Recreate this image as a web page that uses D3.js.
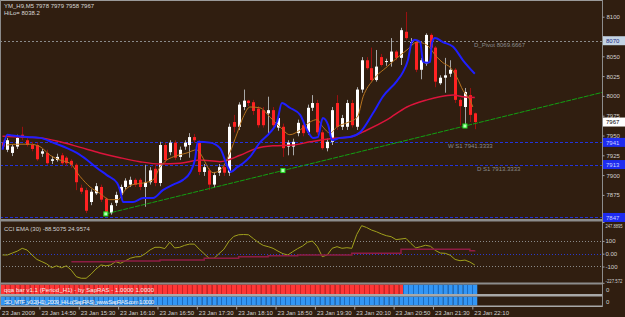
<!DOCTYPE html>
<html>
<head>
<meta charset="utf-8">
<script src="https://cdn.jsdelivr.net/npm/d3@7"></script>
<style>
  body { margin: 0; background: #301e10; }
  svg { display: block; font-family: "Liberation Sans", Arial, sans-serif; }
  .axis path { display: none; }
  .axis line { stroke: #a0a0a0; }
  .axis text { fill: #d0d0d0; font-size: 6px; }
</style>
</head>
<body>
<div id="chart"></div>
<script>
// ---- data ----
var opens  = [7941,7932,7928,7936,7951,7944,7938,7938,7927,7928,7918,7919,7925,7922,7918,7913,7884,7881,7866,7877,
              7885,7870,7852,7865,7875,7885,7888,7894,7894,7885,7891,7908,7890,7938,7929,7941,7923,7936,7938,7948,
              7941,7904,7906,7888,7903,7910,7903,7967,7961,7986,7994,7992,7984,7982,7978,7982,7960,7961,7936,7936,
              7953,7963,7954,7985,7991,7954,7934,7942,7991,7961,7961,7991,7961,8008,8045,8035,8020,8049,8043,8043,
              8056,8048,8081,8067,8068,8033,8041,8077,8061,8016,8023,8028,8033,7995,7986,8001,7978];
var highs  = [7944,7947,7938,7951,7961,7947,7942,7941,7933,7932,7924,7927,7928,7924,7920,7915,7888,7884,7882,7890,
              7888,7872,7865,7879,7888,7896,7898,7896,7896,7913,7910,7913,7942,7941,7944,7944,7936,7944,7953,7952,
              7944,7914,7909,7904,7914,7913,7965,7976,7992,8008,7995,7995,7987,7986,7999,7986,7976,7965,7944,7946,
              7970,7967,7989,8001,7995,7957,7946,7986,8001,7976,7995,7995,8011,8049,8049,8061,8058,8053,8047,8073,
              8058,8086,8106,8073,8071,8048,8079,8079,8063,8026,8048,8045,8035,7997,8010,8010,7979];
var lows   = [7933,7929,7924,7933,7944,7936,7930,7918,7923,7913,7914,7917,7913,7912,7909,7881,7876,7852,7862,7875,
              7866,7851,7850,7861,7872,7882,7885,7885,7881,7860,7888,7886,7886,7915,7925,7919,7919,7932,7922,7941,
              7900,7899,7881,7884,7899,7899,7899,7954,7957,7982,7987,7976,7960,7960,7951,7960,7956,7923,7925,7925,
              7949,7949,7951,7981,7951,7932,7930,7938,7957,7957,7957,7960,7957,8004,8033,8018,8018,8037,8038,8037,
              8045,8039,8071,8064,8030,8021,8038,8058,8011,8014,8004,8024,7991,7963,7963,7967,7958];
var closes = [7936,7944,7936,7947,7947,7938,7933,7920,7930,7915,7920,7923,7915,7915,7913,7891,7879,7855,7879,7886,
              7869,7853,7862,7875,7885,7893,7894,7888,7885,7891,7906,7890,7938,7919,7941,7922,7932,7941,7948,7944,
              7904,7910,7888,7900,7910,7903,7961,7961,7989,7994,7991,7981,7963,7963,7982,7963,7972,7934,7941,7942,
              7966,7953,7985,7991,7954,7934,7942,7982,7961,7972,7991,7963,8008,8045,8035,8020,8037,8039,8044,8056,
              8048,8083,8073,8068,8033,8045,8077,8061,8018,8023,8026,8033,7995,7987,8005,7976,7967];

// moving averages: [bar index, price]
var blueMA = [[0,7932],[1,7951],[2,7950],[5,7948],[7.6,7947],[10.3,7941],[13.1,7934],[15.1,7928],[17.2,7919],
              [19.2,7909],[21.2,7900],[23.3,7890],[23.9,7881],[24.5,7866],[26.5,7866],[28.6,7871],[30.6,7871],
              [32.6,7881],[34.7,7888],[36.7,7894],[38.1,7903],[39.1,7919],[39.7,7942],[42.2,7941],[44.2,7934],
              [45.8,7910],[46.4,7904],[47.7,7910],[48.9,7915],[50.3,7923],[52.3,7941],[54.4,7954],[55.8,7967],
              [56.8,7991],[58.4,7985],[60.5,7976],[61.9,7957],[63.1,7947],[64.1,7948],[65.1,7972],[66.2,7963],
              [67,7944],[68.6,7947],[70.6,7948],[72.7,7954],[75.3,7978],[77.3,7999],[80.2,8019],[81.4,8030],
              [82.4,8045],[83.2,8068],[83.8,8071],[84.9,8068],[85.5,8043],[86.3,8042],[86.9,8043],[87.3,8067],
              [87.9,8073],[89.5,8068],[91.6,8062],[93.6,8045],[96,8028]];
var redMA  = [[0,7949],[3.6,7948],[7.6,7947],[11.7,7942],[15.8,7935],[19.8,7928],[23.9,7922],[27.9,7917],
              [32,7914],[36.1,7915],[40.1,7919],[44.2,7917],[48.3,7925],[51.7,7934],[55,7937],[59.1,7938],
              [62.5,7942],[66.6,7946],[70.6,7948],[74.1,7957],[78.2,7970],[82.2,7986],[86.3,7995],[88.9,7999],
              [91.6,8001],[93.6,7999],[96,7998]];
var orangeMA = [[0.9,7938],[2.9,7939],[5.6,7939],[7.6,7936],[9.7,7925],[11.7,7919],[13.7,7915],[15.8,7898],
              [17.8,7885],[19.8,7877],[21.8,7869],[23.5,7869],[24.9,7881],[26.5,7888],[28.6,7890],[30.6,7894],
              [32,7910],[33.4,7919],[34.7,7923],[37.5,7928],[39.5,7932],[40.1,7928],[42.8,7903],[44.2,7906],
              [46.2,7928],[47.7,7953],[48.9,7973],[50.3,7986],[52.3,7985],[54.4,7973],[56.4,7961],[58.4,7951],
              [60.5,7957],[62.5,7967],[63.9,7970],[65.1,7961],[66.6,7953],[68,7961],[70,7966],[72.1,7973],
              [73.3,7999],[75.3,8020],[78.2,8037],[80.2,8048],[82.2,8058],[84.3,8068],[86.3,8064],[88.3,8049],
              [89.5,8042],[91,8036],[92.4,8023],[93.6,8007],[95,7995],[95.6,7986]];

// trend line anchors and touch points
var trendAnchors = [[21,7851],[94,7962]];
var trendTouches = [21, 57, 94];

// horizontal levels
var levelPrices = [8069.6667, 7941.3333, 7913.3333, 7846.5];
var levelNames  = ['D_Pivot 8069.6667', 'W S1 7941.3333', 'D S1 7913.3333', ''];
var boxPrices = [8069.6667, 7967, 7941.3333, 7913.3333, 7846.5];
var boxTexts  = ['8070', '7967', '7941', '7913', '7847'];
var priceTicks = [8100, 8075, 8050, 8025, 8000, 7975, 7950, 7925, 7900, 7875];

// CCI panel
var cciValues = [-10,-10,5,20,42,29,-10,-45,-62,-80,-110,-95,-110,-95,-130,-180,-192,-192,-160,-120,
                 -88,-95,-88,-62,-75,-55,-35,-25,-23,0,30,50,50,40,90,45,50,65,75,75,
                 35,0,-36,-36,0,35,95,135,148,150,148,118,88,65,55,42,20,0,-10,16,
                 40,60,90,99,55,-23,-10,42,55,42,47,42,150,219,205,185,172,155,141,133,
                 110,115,120,81,45,55,66,58,25,5,3,-12,-45,-55,-50,-65,-88.5];
var cciSignal = [[14,-62],[23,-57],[32,-49],[41,-36],[48,-23],[54,-16],[60,-10],[71,3],[81,34],[90,34],[95,23],[96,25]];
var cciTicks = [247.8895, 100, 0, -100, -227.572];
var cciTickLabels = ['247.8895', '100', '0.00', '-100', '-227.572'];

// histogram panels: runs of [state, bar count]
var qqaRuns = [[-1, 82], [1, 15]];
var soRuns  = [[1, 97]];

// time axis
var timeTickIdx = [0, 8, 16, 24, 32, 40, 48, 56, 64, 72, 80, 88, 96];
var timeLabels = ['23 Jan 2009', '23 Jan 14:50', '23 Jan 15:30', '23 Jan 16:10', '23 Jan 16:50', '23 Jan 17:30',
                  '23 Jan 18:10', '23 Jan 18:50', '23 Jan 19:30', '23 Jan 20:10', '23 Jan 20:50', '23 Jan 21:30', '23 Jan 22:10'];

// ---- layout ----
var W = 625, H = 317, axisX = 602;
var bg = '#301e10';

var svg = d3.select('#chart').append('svg').attr('width', W).attr('height', H);
svg.append('rect').attr('width', W).attr('height', H).attr('fill', bg);

var x = d3.scaleLinear().domain([0, 96]).range([2.5, 474.8]);
var y = d3.scaleLinear().domain([7850, 8100]).range([214.7, 16.7]);
var yCci = d3.scaleLinear().domain([-227.572, 247.8895]).range([282.8, 222]);
var slot = x(1) - x(0);

svg.append('clipPath').attr('id', 'clipMain')
   .append('rect').attr('x', 0).attr('y', 1).attr('width', axisX).attr('height', 218);
svg.append('clipPath').attr('id', 'clipCci')
   .append('rect').attr('x', 0).attr('y', 222).attr('width', axisX).attr('height', 60);

var main = svg.append('g').attr('clip-path', 'url(#clipMain)');

// level lines
main.selectAll('.level')
    .data(levelPrices)
    .enter().append('line')
    .attr('x1', 0).attr('x2', axisX)
    .attr('y1', function(d) { return Math.round(y(d)) + 0.5; })
    .attr('y2', function(d) { return Math.round(y(d)) + 0.5; })
    .attr('stroke', function(d, i) { return i === 0 ? '#8a8a8a' : '#2233dd'; })
    .attr('stroke-dasharray', function(d, i) { return i === 0 ? '2,2' : '3,2'; })
    .attr('stroke-width', 1);

var levelTextX = [474, 448, 477, 0];
main.selectAll('.levelText')
    .data(levelNames)
    .enter().append('text')
    .attr('x', function(d, i) { return levelTextX[i]; })
    .attr('y', function(d, i) { return y(levelPrices[i]) + 6; })
    .attr('fill', '#8a8a8a')
    .attr('font-size', 6)
    .text(function(d) { return d; });

// candles
var bars = d3.range(opens.length);
var candle = main.selectAll('.candle').data(bars).enter().append('g');

candle.append('line')
      .attr('x1', function(i) { return Math.round(x(i)) + 0.5; })
      .attr('x2', function(i) { return Math.round(x(i)) + 0.5; })
      .attr('y1', function(i) { return y(highs[i]); })
      .attr('y2', function(i) { return y(lows[i]); })
      .attr('stroke', function(i) { return closes[i] >= opens[i] ? '#a8a8a8' : '#9a1010'; })
      .attr('stroke-width', 1);

candle.append('rect')
      .attr('x', function(i) { return Math.round(x(i)) - 1; })
      .attr('width', 3)
      .attr('y', function(i) { return y(Math.max(opens[i], closes[i])); })
      .attr('height', function(i) { return Math.max(1, Math.abs(y(opens[i]) - y(closes[i]))); })
      .attr('fill', function(i) { return closes[i] >= opens[i] ? '#ffffff' : '#ff2222'; });

// moving averages
var maLine = d3.line()
               .x(function(d) { return x(d[0]); })
               .y(function(d) { return y(d[1]); })
               .curve(d3.curveMonotoneX);

main.append('path').datum(redMA)
    .attr('d', maLine).attr('fill', 'none').attr('stroke', '#dc143c').attr('stroke-width', 1.5);
main.append('path').datum(orangeMA)
    .attr('d', maLine).attr('fill', 'none').attr('stroke', '#b8741e').attr('stroke-width', 1);
main.append('path').datum(blueMA)
    .attr('d', maLine).attr('fill', 'none').attr('stroke', '#1f1fff').attr('stroke-width', 2);

// trend line, extended to the price axis
var slope = (trendAnchors[1][1] - trendAnchors[0][1]) / (trendAnchors[1][0] - trendAnchors[0][0]);
var endIdx = x.invert(axisX);
var trendPts = [trendAnchors[0], [endIdx, trendAnchors[0][1] + slope * (endIdx - trendAnchors[0][0])]];
main.append('line')
    .attr('x1', x(trendPts[0][0])).attr('y1', y(trendPts[0][1]))
    .attr('x2', x(trendPts[1][0])).attr('y2', y(trendPts[1][1]))
    .attr('stroke', '#12a012').attr('stroke-width', 1).attr('stroke-dasharray', '5,1');

main.selectAll('.touch')
    .data(trendTouches)
    .enter().append('rect')
    .attr('x', function(d) { return x(d) - 2; })
    .attr('y', function(d) { return y(trendAnchors[0][1] + slope * (d - trendAnchors[0][0])) - 2; })
    .attr('width', 4).attr('height', 4)
    .attr('fill', '#b8ffb8').attr('stroke', '#22dd22').attr('stroke-width', 1);

// header texts
svg.append('text').attr('x', 4).attr('y', 8).attr('fill', '#d8d8d8').attr('font-size', 6)
   .text('YM_H9,M5  7978 7979 7958 7967');
svg.append('text').attr('x', 4).attr('y', 15).attr('fill', '#d8d8d8').attr('font-size', 6)
   .text('HiLo= 8038.2');

// ---- CCI panel ----
var cci = svg.append('g').attr('clip-path', 'url(#clipCci)');
cci.selectAll('.cciGrid')
   .data(cciTicks.slice(1, 4))
   .enter().append('line')
   .attr('x1', 0).attr('x2', axisX)
   .attr('y1', function(d) { return Math.round(yCci(d)) + 0.5; })
   .attr('y2', function(d) { return Math.round(yCci(d)) + 0.5; })
   .attr('stroke', function(d) { return d === 0 ? '#2a3acc' : '#8a8a8a'; })
   .attr('stroke-dasharray', '1,2');

var cciLine = d3.line()
                .x(function(d, i) { return x(i); })
                .y(function(d) { return yCci(d); });
cci.append('path').datum(cciValues)
   .attr('d', cciLine).attr('fill', 'none').attr('stroke', '#a0a01c').attr('stroke-width', 1);

var sigLine = d3.line()
                .x(function(d) { return x(d[0]); })
                .y(function(d) { return yCci(d[1]); })
                .curve(d3.curveStepAfter);
cci.append('path').datum(cciSignal)
   .attr('d', sigLine).attr('fill', 'none').attr('stroke', '#8e1c44').attr('stroke-width', 1.5);

svg.append('text').attr('x', 4).attr('y', 231).attr('fill', '#d0d0d0').attr('font-size', 6)
   .text('CCI EMA (30) -88.5075 24.9574');

// ---- histogram panels ----
function expandRuns(runs) {
  var out = [];
  runs.forEach(function(r) { for (var k = 0; k < r[1]; k++) out.push(r[0]); });
  return out;
}

function drawHist(states, top, height, label) {
  var g = svg.append('g');
  g.selectAll('rect')
   .data(states)
   .enter().append('rect')
   .attr('x', function(d, i) { return x(i) - slot / 2; })
   .attr('y', top)
   .attr('width', slot)
   .attr('height', height)
   .attr('fill', function(d) { return d < 0 ? '#ff3636' : '#3296f5'; });
  g.selectAll('line')
   .data(states)
   .enter().append('line')
   .attr('x1', function(d, i) { return Math.round(x(i) - slot / 2) + 0.5; })
   .attr('x2', function(d, i) { return Math.round(x(i) - slot / 2) + 0.5; })
   .attr('y1', top).attr('y2', top + height)
   .attr('stroke', function(d) { return d < 0 ? '#c82424' : '#1e6cc0'; });
  g.append('text').attr('x', 4).attr('y', top + 7).attr('fill', '#f0f0f0').attr('font-size', 6)
   .attr('textLength', 150).attr('lengthAdjust', 'spacing')
   .text(label);
  svg.append('text').attr('x', 606).attr('y', top + 7).attr('fill', '#d0d0d0').attr('font-size', 6).text('0');
}

drawHist(expandRuns(qqaRuns), 284.5, 9.5, 'qqa bar v1.1 (Period_H1)  -  by SapRAS  -  1.0000 1.0000');
drawHist(expandRuns(soRuns), 296.5, 9, 'SO_MTF_v0.2(H1)_2009_Hi-Lo(SapRAS)_www.SapRAS.com 1.0000');

// ---- frames and separators ----
svg.append('rect').attr('x', 0).attr('y', 0).attr('width', axisX).attr('height', 1).attr('fill', '#9a9a9a');
svg.append('rect').attr('x', 0).attr('y', 0).attr('width', 1).attr('height', 306).attr('fill', '#8a8a8a');
svg.append('rect').attr('x', 0).attr('y', 219).attr('width', axisX).attr('height', 2.5).attr('fill', '#8c8c8c');
svg.append('rect').attr('x', 0).attr('y', 282.5).attr('width', axisX).attr('height', 2).attr('fill', '#8c8c8c');
svg.append('rect').attr('x', 0).attr('y', 294).attr('width', axisX).attr('height', 2.5).attr('fill', '#a8a8a8');
svg.append('rect').attr('x', 0).attr('y', 305.5).attr('width', axisX).attr('height', 1.5).attr('fill', '#a8a8a8');
svg.append('rect').attr('x', axisX).attr('y', 0).attr('width', 1).attr('height', 307).attr('fill', '#8c8c8c');

// ---- axes ----
// the 8075 label sits under the pivot price box, as in the original
var priceAxis = d3.axisRight(y).tickValues(priceTicks).tickSize(2).tickPadding(2)
                  .tickFormat(function(d) { return d === 8075 ? '' : d3.format('d')(d); });
svg.append('g').attr('class', 'axis').attr('transform', 'translate(' + (axisX + 0.5) + ',0)').call(priceAxis);

var cciAxis = d3.axisRight(yCci).tickValues(cciTicks).tickSize(2).tickPadding(1)
                .tickFormat(function(d, i) { return cciTickLabels[i]; });
var cciAxisG = svg.append('g').attr('class', 'axis').attr('transform', 'translate(' + (axisX + 0.5) + ',0)').call(cciAxis);
cciAxisG.selectAll('text')
        .attr('dy', function(d, i) { return i === 0 ? '1em' : (i === 4 ? '-0.1em' : '0.32em'); })
        .each(function(d, i) {
          if (i === 0 || i === 4) {
            d3.select(this).style('font-size', '5px')
              .attr('textLength', 17).attr('lengthAdjust', 'spacingAndGlyphs');
          }
        });

var timeAxis = d3.axisBottom(x).tickValues(timeTickIdx).tickSize(3).tickPadding(1)
                 .tickFormat(function(d, i) { return timeLabels[i]; });
var timeG = svg.append('g').attr('class', 'axis').attr('transform', 'translate(' + (-slot / 2) + ',306.5)').call(timeAxis);
timeG.selectAll('text').attr('text-anchor', 'start').attr('x', 1.5);

// price boxes on the axis
var boxFill = ['#c4d4e4', '#ffffff', '#1e2cf0', '#1e2cf0', '#1e2cf0'];
var boxInk  = ['#1a2a80', '#000000', '#c8d0ff', '#c8d0ff', '#c8d0ff'];
var boxes = svg.selectAll('.pbox').data(boxPrices).enter().append('g');
boxes.append('rect')
     .attr('x', axisX + 1)
     .attr('y', function(d) { return y(d) - 4.5; })
     .attr('width', 22).attr('height', 9)
     .attr('fill', function(d, i) { return boxFill[i]; });
boxes.append('text')
     .attr('x', axisX + 4)
     .attr('y', function(d) { return y(d) + 2.2; })
     .attr('font-size', 6)
     .attr('fill', function(d, i) { return boxInk[i]; })
     .text(function(d, i) { return boxTexts[i]; });
</script>
</body>
</html>
